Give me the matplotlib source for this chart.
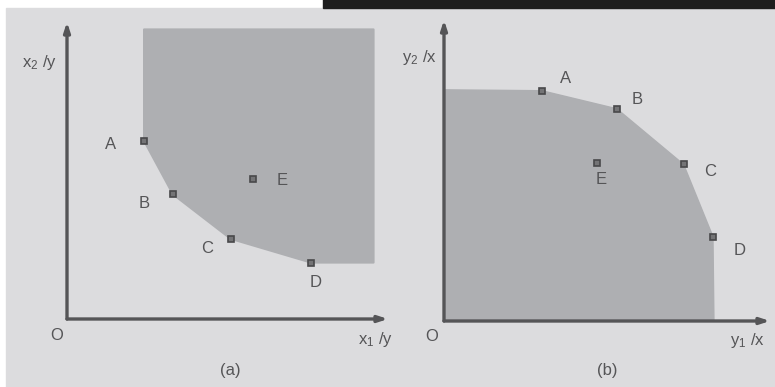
import matplotlib.pyplot as plt
from matplotlib.patches import Rectangle, Polygon

plt.rcParams['font.family'] = ['Liberation Sans', 'DejaVu Sans']
plt.rcParams['mathtext.fontset'] = 'custom'
plt.rcParams['mathtext.rm'] = 'Liberation Sans'

# (a) input-oriented frontier: x1/y vs x2/y
a_labels = ['A', 'B', 'C', 'D', 'E']
a_x = [2.4, 3.3, 5.1, 7.6, 5.8]
a_y = [6.0, 4.2, 2.7, 1.9, 4.7]
a_top = 9.75
a_right = 9.55

# (b) output-oriented frontier: y1/x vs y2/x
b_labels = ['A', 'B', 'C', 'D', 'E']
b_x = [3.0, 5.3, 7.35, 8.25, 4.7]
b_y = [7.65, 7.05, 5.2, 2.8, 5.25]
b_left_top = 7.68
b_right = 8.28

BG = '#dcdcde'
FILL = '#aeafb2'
INK = '#555557'

fig = plt.figure(figsize=(7.75, 3.87), dpi=100, facecolor='white')
fig.patches.append(Rectangle((6 / 775, 0), 1, (387 - 8) / 387,
                             transform=fig.transFigure, color=BG, zorder=-10))
fig.patches.append(Rectangle((323 / 775, (387 - 8) / 387), 1, 1,
                             transform=fig.transFigure, color='#1e1e1e', zorder=-10))


def frame(ax):
    ax.set_xlim(0, 10)
    ax.set_ylim(0, 10)
    ax.axis('off')
    ax.set_facecolor('none')
    kw = dict(arrowstyle='-|>,head_length=0.55,head_width=0.18', color=INK, lw=2.4,
              shrinkA=0, shrinkB=0)
    ax.annotate('', xy=(10, 0), xytext=(0, 0), arrowprops=kw, annotation_clip=False)
    ax.annotate('', xy=(0, 10), xytext=(0, 0), arrowprops=kw, annotation_clip=False)


def points(ax, xs, ys):
    ax.plot(xs, ys, ls='none', marker='s', ms=4.3, mfc='#747476', mec='#48484a',
            mew=1.2, zorder=5, clip_on=False)


lab = dict(fontsize=12, color=INK)

# panel (a)
axa = fig.add_axes([67 / 775, (387 - 319) / 387, 321 / 775, 297 / 387])
frame(axa)
front = list(zip(a_x[:4], a_y[:4]))
poly = [(a_x[0], a_top), (a_right, a_top), (a_right, a_y[3])] + front[::-1]
axa.add_patch(Polygon(poly, closed=True, fc=FILL, ec=FILL, lw=1.5, joinstyle='round'))
points(axa, a_x, a_y)
a_off = [(-24, -3), (-21, -7), (-17, -7), (3, -14), (21, -1)]
for t, x, y, o in zip(a_labels, a_x, a_y, a_off):
    axa.annotate(t, (x, y), xytext=o, textcoords='offset points', ha='center', va='center', **lab)
axa.text(-0.32, -0.55, 'O', ha='center', va='center', **lab)
axa.text(9.6, -0.68, r'$\mathregular{x_1}$ /y', ha='center', va='center', **lab)
axa.text(-0.85, 8.65, r'$\mathregular{x_2}$ /y', ha='center', va='center', **lab)
axa.text(5.1, -1.72, '(a)', ha='center', va='center', **lab)

# panel (b)
axb = fig.add_axes([444 / 775, (387 - 321) / 387, 326 / 775, 301 / 387])
frame(axb)
front = list(zip(b_x[:4], b_y[:4]))
poly = [(0, 0), (0, b_left_top)] + front + [(b_right, 0)]
axb.add_patch(Polygon(poly, closed=True, fc=FILL, ec=FILL, lw=1.0, zorder=1))
points(axb, b_x, b_y)
b_off = [(17, 9), (15, 7), (19, -5), (19, -10), (3, -12)]
for t, x, y, o in zip(b_labels, b_x, b_y, b_off):
    axb.annotate(t, (x, y), xytext=o, textcoords='offset points', ha='center', va='center', **lab)
axb.text(-0.38, -0.5, 'O', ha='center', va='center', **lab)
axb.text(9.3, -0.65, r'$\mathregular{y_1}$ /x', ha='center', va='center', **lab)
axb.text(-0.75, 8.75, r'$\mathregular{y_2}$ /x', ha='center', va='center', **lab)
axb.text(5.0, -1.66, '(b)', ha='center', va='center', **lab)

fig.savefig('out.png', dpi=100, facecolor=fig.get_facecolor())
